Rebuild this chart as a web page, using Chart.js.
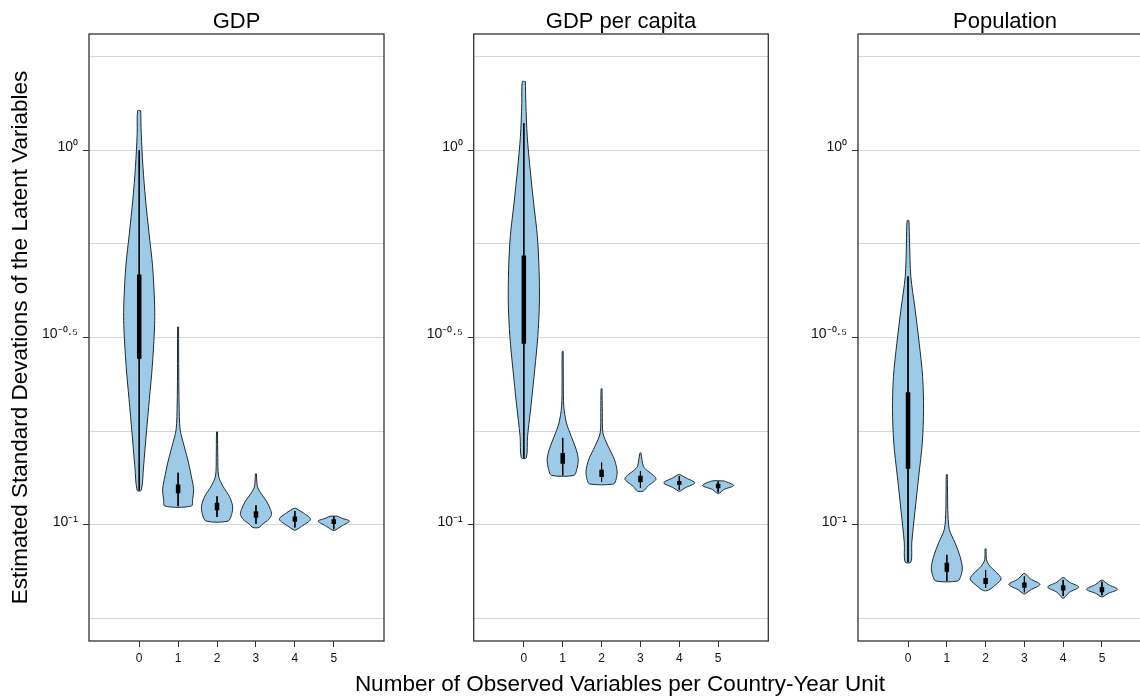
<!DOCTYPE html>
<html>
<head>
<meta charset="utf-8">
<script src="https://cdn.jsdelivr.net/npm/chart.js@4.4.0/dist/chart.umd.min.js"></script>
<style>
  html, body { margin: 0; padding: 0; background: #fff; overflow: hidden; }
  body { width: 1140px; height: 698px; position: relative; font-family: 'Liberation Sans', Arial, sans-serif; }
  canvas { position: absolute; top: 0; }
  #xtitle { position: absolute; left: 270px; width: 700px; top: 670px; line-height: 27px; font-size: 22.5px; text-align: center; color: #000; }
</style>
</head>
<body>
<canvas id="c0" width="400" height="698" style="left:0px"></canvas>
<canvas id="c1" width="390" height="698" style="left:400px"></canvas>
<canvas id="c2" width="370" height="698" style="left:790px"></canvas>
<div id="xtitle">Number of Observed Variables per Country-Year Unit</div>
<script>
// data (y values are log10 of the estimated standard deviation)
const categories = [0, 1, 2, 3, 4, 5];
const panelTitles = ['GDP', 'GDP per capita', 'Population'];
const gridExponents = [-1.25, -1, -0.75, -0.5, -0.25, 0, 0.25];
const labelExponents = [0, -0.5, -1];
const tickLabels = ['10⁰', '10⁻⁰·⁵', '10⁻¹'];

// violin outlines: [log10 sd, relative density], top to bottom
const gdpDensity = [
  [[0.105, 0.10], [0.045, 0.13], [-0.044, 0.24], [-0.133, 0.41], [-0.221, 0.63], [-0.31, 0.86], [-0.40, 0.98], [-0.444, 1.0], [-0.488, 0.97], [-0.577, 0.84], [-0.666, 0.65], [-0.755, 0.46], [-0.844, 0.28], [-0.908, 0.13]],
  [[-0.472, 0.03], [-0.60, 0.04], [-0.675, 0.06], [-0.746, 0.13], [-0.79, 0.39], [-0.835, 0.67], [-0.879, 0.89], [-0.906, 1.0], [-0.932, 0.93], [-0.950, 0.85]],
  [[-0.752, 0.03], [-0.82, 0.05], [-0.870, 0.10], [-0.897, 0.38], [-0.924, 0.79], [-0.950, 1.0], [-0.972, 0.94], [-0.990, 0.70]],
  [[-0.864, 0.03], [-0.897, 0.09], [-0.915, 0.30], [-0.937, 0.68], [-0.959, 0.93], [-0.972, 1.0], [-0.985, 0.83], [-0.999, 0.40], [-1.007, 0.20]],
  [[-0.956, 0.06], [-0.968, 0.54], [-0.985, 1.0], [-1.004, 0.43], [-1.014, 0.06]],
  [[-0.977, 0.25], [-0.982, 0.5], [-0.990, 1.0], [-1.004, 0.47], [-1.015, 0.06]]
];
const gdpBox = [[-0.332, -0.557], [-0.892, -0.916], [-0.941, -0.961], [-0.964, -0.981], [-0.978, -0.992], [-0.985, -0.998]];
const gdpWhisker = [[0.0, -0.908], [-0.861, -0.950], [-0.924, -0.979], [-0.948, -0.997], [-0.963, -1.007], [-0.978, -1.012]];

const perCapitaDensity = [
  [[0.183, 0.10], [0.125, 0.13], [0.036, 0.22], [-0.053, 0.41], [-0.141, 0.63], [-0.230, 0.87], [-0.319, 0.98], [-0.408, 1.0], [-0.497, 0.90], [-0.586, 0.70], [-0.675, 0.48], [-0.764, 0.24], [-0.821, 0.16]],
  [[-0.537, 0.03], [-0.62, 0.04], [-0.684, 0.07], [-0.728, 0.24], [-0.764, 0.55], [-0.799, 0.87], [-0.826, 1.0], [-0.853, 0.90], [-0.868, 0.72]],
  [[-0.637, 0.03], [-0.70, 0.05], [-0.755, 0.09], [-0.790, 0.42], [-0.826, 0.83], [-0.857, 1.0], [-0.879, 0.93], [-0.891, 0.77]],
  [[-0.808, 0.03], [-0.844, 0.19], [-0.853, 0.38], [-0.877, 1.0], [-0.897, 0.47], [-0.910, 0.18]],
  [[-0.866, 0.06], [-0.875, 0.44], [-0.888, 1.0], [-0.901, 0.38], [-0.910, 0.06]],
  [[-0.883, 0.4], [-0.895, 1.0], [-0.906, 0.35], [-0.915, 0.1]]
];
const perCapitaBox = [[-0.281, -0.517], [-0.808, -0.837], [-0.853, -0.872], [-0.869, -0.886], [-0.883, -0.893], [-0.890, -0.902]];
const perCapitaWhisker = [[0.072, -0.821], [-0.768, -0.868], [-0.834, -0.885], [-0.857, -0.901], [-0.870, -0.906], [-0.884, -0.913]];

const populationDensity = [
  [[-0.188, 0.06], [-0.248, 0.10], [-0.337, 0.18], [-0.426, 0.46], [-0.515, 0.72], [-0.604, 0.94], [-0.692, 1.0], [-0.781, 0.92], [-0.870, 0.69], [-0.959, 0.46], [-1.048, 0.24], [-1.099, 0.19]],
  [[-0.866, 0.03], [-0.92, 0.05], [-0.959, 0.06], [-1.012, 0.16], [-1.048, 0.53], [-1.084, 0.85], [-1.115, 1.0], [-1.137, 0.90], [-1.150, 0.70]],
  [[-1.064, 0.03], [-1.093, 0.06], [-1.110, 0.27], [-1.128, 0.72], [-1.144, 1.0], [-1.159, 0.68], [-1.175, 0.15]],
  [[-1.130, 0.06], [-1.144, 0.38], [-1.159, 1.0], [-1.174, 0.38], [-1.184, 0.06]],
  [[-1.141, 0.06], [-1.153, 0.4], [-1.166, 1.0], [-1.180, 0.4], [-1.195, 0.06]],
  [[-1.148, 0.06], [-1.159, 0.4], [-1.172, 1.0], [-1.183, 0.4], [-1.192, 0.06]]
];
const populationBox = [[-0.646, -0.850], [-1.101, -1.125], [-1.142, -1.158], [-1.154, -1.168], [-1.161, -1.175], [-1.166, -1.180]];
const populationWhisker = [[-0.337, -1.099], [-1.080, -1.150], [-1.121, -1.168], [-1.138, -1.180], [-1.147, -1.190], [-1.152, -1.188]];

// styles / layout
const FILL = '#9dcbe7';
const EDGE = '#1f2a30';
const HALF = 0.4;  // max half width of a violin, x units
const panels = [
  { canvas: 'c0', density: gdpDensity, box: gdpBox, whisker: gdpWhisker, yWidth: 89, padLeft: 0, padRight: 16, yTitle: true },
  { canvas: 'c1', density: perCapitaDensity, box: perCapitaBox, whisker: perCapitaWhisker, yWidth: 60, padLeft: 13.7, padRight: 21.7, yTitle: false },
  { canvas: 'c2', density: populationDensity, box: populationBox, whisker: populationWhisker, yWidth: 60, padLeft: 8, padRight: 8, yTitle: false }
];

Chart.defaults.font.family = "'Liberation Sans', Arial, sans-serif";
Chart.defaults.color = '#000';

const framePlugin = {
  id: 'frame',
  afterDraw(chart) {
    const { ctx, chartArea: a } = chart;
    ctx.save();
    ctx.strokeStyle = '#333';
    ctx.lineWidth = 1.3;
    ctx.strokeRect(a.left, a.top, a.right - a.left, a.bottom - a.top);
    ctx.restore();
  }
};

// closed outline: right side going down, left side going up
function violinPoints(x, prof) {
  const right = prof.map(([e, d]) => ({ x: x + d * HALF, y: 10 ** e }));
  const left = prof.slice().reverse().map(([e, d]) => ({ x: x - d * HALF, y: 10 ** e }));
  return right.concat(left, [right[0]]);
}

function buildDatasets(p) {
  const sets = [];
  categories.forEach((c, i) => {
    sets.push({
      data: violinPoints(c, p.density[i]),
      showLine: true, fill: 'shape', backgroundColor: FILL, borderColor: EDGE,
      borderWidth: 1, pointRadius: 0, tension: 0.3, order: 3
    });
    sets.push({
      data: [{ x: c, y: 10 ** p.whisker[i][0] }, { x: c, y: 10 ** p.whisker[i][1] }],
      showLine: true, fill: false, borderColor: '#000', borderWidth: 1, pointRadius: 0, order: 2
    });
    sets.push({
      data: [{ x: c, y: 10 ** p.box[i][0] }, { x: c, y: 10 ** p.box[i][1] }],
      showLine: true, fill: false, borderColor: '#000', borderWidth: 4.5, borderCapStyle: 'butt', pointRadius: 0, order: 1
    });
  });
  return sets;
}

panels.forEach((p, k) => {
  new Chart(document.getElementById(p.canvas), {
    type: 'scatter',
    data: { datasets: buildDatasets(p) },
    plugins: [framePlugin],
    options: {
      responsive: false,
      animation: false,
      events: [],
      layout: { padding: { left: p.padLeft, right: p.padRight, top: 0, bottom: 0 } },
      plugins: {
        legend: { display: false },
        tooltip: { enabled: false },
        title: {
          display: true, text: panelTitles[k], fullSize: false,
          font: { size: 22, weight: 'normal', lineHeight: 1.1 }, color: '#000',
          padding: { top: 9.8, bottom: 0 }
        }
      },
      scales: {
        x: {
          type: 'linear', min: -1.29, max: 6.29,
          afterBuildTicks: s => { s.ticks = categories.map(v => ({ value: v })); },
          afterFit: s => { s.height = 57; },
          grid: { drawOnChartArea: false, tickLength: 6, tickColor: '#333' },
          border: { display: false },
          ticks: { padding: 4, font: { size: 12 }, color: '#111' }
        },
        y: {
          type: 'logarithmic', min: 10 ** -1.31, max: 10 ** 0.31,
          afterBuildTicks: s => { s.ticks = gridExponents.map(e => ({ value: 10 ** e })); },
          afterFit: s => { s.width = p.yWidth; },
          grid: {
            color: '#d6d6d6', lineWidth: 1, tickLength: 6,
            tickColor: c => labelExponents.includes(Math.round(Math.log10(c.tick.value) * 100) / 100) ? '#333' : 'rgba(0,0,0,0)'
          },
          border: { display: false },
          ticks: {
            padding: 5, font: { size: 14 }, color: '#111', labelOffset: -3,
            callback: v => {
              const i = labelExponents.indexOf(Math.round(Math.log10(v) * 100) / 100);
              return i >= 0 ? tickLabels[i] : '';
            }
          },
          title: {
            display: p.yTitle,
            text: 'Estimated Standard Devations of the Latent Variables',
            font: { size: 22.5 }, color: '#000',
            padding: { top: 7.5, bottom: 0 }
          }
        }
      }
    }
  });
});
</script>
</body>
</html>
